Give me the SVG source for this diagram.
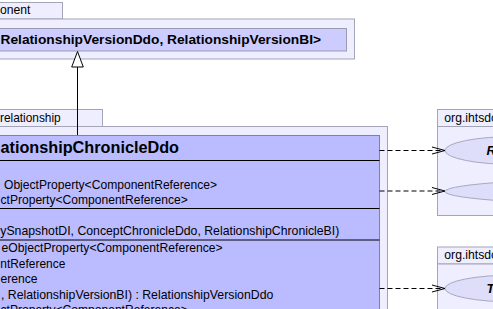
<svg xmlns="http://www.w3.org/2000/svg" width="493" height="309" viewBox="0 0 493 309">
  <style>
    text { font-family: "Liberation Sans", Arial, sans-serif; fill: #000; }
    .pkg { fill: #eeeeff; stroke: #a4a4b8; stroke-width: 1; }
    .cls { fill: #bbbbff; stroke: #8080a0; stroke-width: 1; }
    .cls-light { fill: #ccccff; stroke: #9a9ab0; stroke-width: 1; }
    .sep { stroke: #000; stroke-width: 1; }
    .iface { fill: #dedefa; stroke: #a8a8c0; stroke-width: 1; }
    .pkg-label { font-size: 12.2px; }
    .member { font-size: 12.2px; }
    .title { font-weight: bold; }
    .iface-label { font-weight: bold; font-style: italic; font-size: 13px; }
    .dep { fill: none; stroke: #000; stroke-width: 1; stroke-dasharray: 5,3; }
    .head { fill: none; stroke: #000; stroke-width: 1; }
  </style>

  <!-- package: component -->
  <g id="pkg-component">
    <rect class="pkg" x="-10" y="2.5" width="72.5" height="16.5"/>
    <rect class="pkg" x="-10" y="19" width="364.5" height="40"/>
    <text class="pkg-label" x="0" y="14.3">onent</text>
  </g>

  <!-- generic version class -->
  <g id="class-version">
    <rect class="cls-light" x="-10" y="28.5" width="356.5" height="22.5"/>
    <text class="title" x="0.5" y="43.5" font-size="13.6" textLength="320.5" lengthAdjust="spacingAndGlyphs">RelationshipVersionDdo, RelationshipVersionBI&gt;</text>
  </g>

  <!-- package: relationship -->
  <g id="pkg-relationship">
    <rect class="pkg" x="-10" y="109.5" width="112.5" height="17"/>
    <rect class="pkg" x="-10" y="126.5" width="397.5" height="200"/>
    <text class="pkg-label" x="0" y="121.7" textLength="60.7" lengthAdjust="spacingAndGlyphs">relationship</text>
  </g>

  <!-- chronicle class with its compartments -->
  <g id="class-chronicle">
    <rect class="cls" x="-10" y="135.5" width="389.5" height="190"/>
    <line class="sep" x1="-10" y1="160.5" x2="379.5" y2="160.5"/>
    <line class="sep" x1="-10" y1="208.5" x2="379.5" y2="208.5"/>
    <line class="sep" x1="-10" y1="240" x2="379.5" y2="240"/>
    <text class="title" x="0.5" y="153" font-size="16.3" textLength="178.5" lengthAdjust="spacingAndGlyphs">ationshipChronicleDdo</text>
    <text class="member" x="4" y="189" textLength="213" lengthAdjust="spacingAndGlyphs">ObjectProperty&lt;ComponentReference&gt;</text>
    <text class="member" x="0.5" y="204" textLength="187.2" lengthAdjust="spacingAndGlyphs">ctProperty&lt;ComponentReference&gt;</text>
    <text class="member" x="0.3" y="235" textLength="339" lengthAdjust="spacingAndGlyphs">ySnapshotDI, ConceptChronicleDdo, RelationshipChronicleBI)</text>
    <text class="member" x="1.5" y="252" textLength="221.2" lengthAdjust="spacingAndGlyphs">eObjectProperty&lt;ComponentReference&gt;</text>
    <text class="member" x="0.3" y="267.5" textLength="65" lengthAdjust="spacingAndGlyphs">ntReference</text>
    <text class="member" x="0.5" y="283" textLength="37" lengthAdjust="spacingAndGlyphs">erence</text>
    <text class="member" x="1" y="298.5" textLength="272.3" lengthAdjust="spacingAndGlyphs">, RelationshipVersionBI) : RelationshipVersionDdo</text>
    <text class="member" x="0.5" y="314" textLength="187.2" lengthAdjust="spacingAndGlyphs">ctProperty&lt;ComponentReference&gt;</text>
  </g>

  <!-- api package, upper -->
  <g id="pkg-api-upper">
    <rect class="pkg" x="437.5" y="109.5" width="70" height="17"/>
    <rect class="pkg" x="437.5" y="126.5" width="70" height="89"/>
    <text class="pkg-label" x="444.3" y="121.5">org.ihtsdo</text>
  </g>
  <g id="iface-r">
    <ellipse class="iface" cx="515" cy="150.5" rx="70" ry="14"/>
    <text class="iface-label" x="486.5" y="155">R</text>
  </g>
  <g id="iface-wide">
    <ellipse class="iface" cx="665" cy="191.5" rx="220" ry="14"/>
  </g>

  <!-- api package, lower -->
  <g id="pkg-api-lower">
    <rect class="pkg" x="437.5" y="247" width="70" height="17"/>
    <rect class="pkg" x="437.5" y="264" width="70" height="60"/>
    <text class="pkg-label" x="444.3" y="259">org.ihtsdo</text>
  </g>
  <g id="iface-t">
    <ellipse class="iface" cx="515" cy="288.5" rx="70" ry="13.5"/>
    <text class="iface-label" x="486.5" y="293">T</text>
  </g>

  <!-- connectors -->
  <g id="connectors">
    <!-- generalization -->
    <line x1="77.5" y1="135" x2="77.5" y2="67" stroke="#000" stroke-width="1"/>
    <polygon points="77.5,51.5 71.7,67 83.3,67" fill="#fff" stroke="#000" stroke-width="1"/>
    <!-- realizations / dependencies -->
    <line class="dep" x1="379.5" y1="150.5" x2="444" y2="150.5"/>
    <polyline class="head" points="432,147 445,150.5 432,154"/>
    <line class="dep" x1="379.5" y1="191" x2="444" y2="191"/>
    <polyline class="head" points="432,187.5 445,191 432,194.5"/>
    <line class="dep" x1="379.5" y1="288.5" x2="444" y2="288.5"/>
    <polyline class="head" points="432,285 445,288.5 432,292"/>
  </g>
</svg>
